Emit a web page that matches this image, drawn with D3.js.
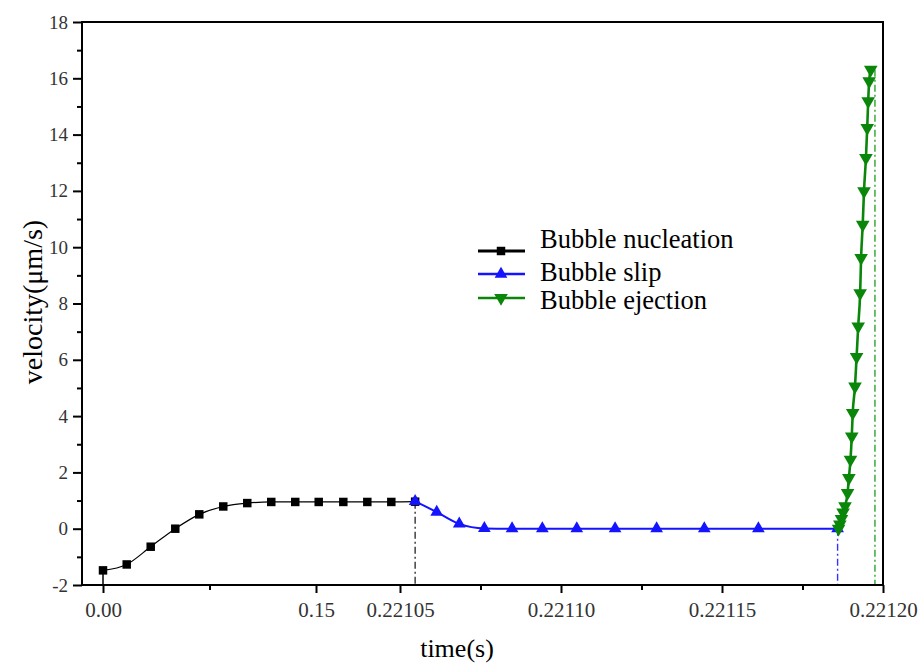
<!DOCTYPE html>
<html lang="en">
<head>
<meta charset="UTF-8">
<title>Bubble velocity</title>
<script src="https://cdnjs.cloudflare.com/ajax/libs/d3/7.8.5/d3.min.js"></script>
<style>
    body { margin: 0; background: #fff; }
    svg text { font-family: "Liberation Serif", "Times New Roman", serif; }
    .axis path, .axis line { stroke: #000; stroke-width: 2px; }
    .axis text { fill: #333; }
</style>
</head>
<body>
<svg id="chart" width="922" height="664"></svg>
<script>
// --- data ---
const nucleationTime = [0, 0.0167, 0.0336, 0.0509, 0.0678, 0.0847, 0.1016, 0.1185, 0.1354, 0.1523, 0.1731, 0.1934, 0.2137, 0.2210547];
const nucleationVel  = [-1.48, -1.27, -0.64, 0.0, 0.51, 0.79, 0.91, 0.95, 0.95, 0.95, 0.95, 0.95, 0.95, 0.96];

const slipTime = [0.2210547, 0.2210614, 0.2210684, 0.2210762, 0.2210848, 0.2210942, 0.2211049, 0.2211168, 0.2211297, 0.2211445, 0.2211613, 0.2211859];
const slipVel  = [0.97, 0.59, 0.17, 0.01, 0, 0, 0, 0, 0, 0, 0, 0];

const ejectionTime = [0.2211862, 0.2211866, 0.2211871, 0.2211876, 0.2211882, 0.2211890, 0.2211894, 0.2211899, 0.2211903, 0.2211906, 0.2211913,
                      0.2211918, 0.2211923, 0.2211929, 0.2211932, 0.2211937, 0.2211941, 0.2211947, 0.2211951, 0.2211954, 0.2211957, 0.2211962];
const ejectionVel  = [0.0, 0.15, 0.35, 0.58, 0.8, 1.27, 1.80, 2.45, 3.28, 4.11, 5.05, 6.10, 7.19, 8.37, 9.62, 10.80, 11.99, 13.17, 14.24, 15.19, 15.90, 16.31];

// broken time axis
const xBreaks     = [0, 0.15, 0.22105, 0.2212];
const xTicks      = [0, 0.15, 0.22105, 0.2211, 0.22115, 0.2212];
const xTickLabels = ["0.00", "0.15", "0.22105", "0.22110", "0.22115", "0.22120"];
const xMinor      = [0.075, 0.221075, 0.221125, 0.221175];
const yTicks      = [-2, 0, 2, 4, 6, 8, 10, 12, 14, 16, 18];
const yMinor      = [-1, 1, 3, 5, 7, 9, 11, 13, 15, 17];

// drop lines: time, from velocity, series
const dropTime = [0, 0.2210547, 0.2211859, 0.2211975];
const dropVel  = [-1.48, 0.96, 0, 16.3];
const dropSeries = ["nucleation-solid", "nucleation", "slip", "ejection"];

const seriesNames = ["Bubble nucleation", "Bubble slip", "Bubble ejection"];
const colors = { nucleation: "#000", slip: "#1414ff", ejection: "#0a870a" };

// --- layout ---
const svg = d3.select("#chart");
const frame = { left: 82, right: 883, top: 22, bottom: 585 };
const serif = '"Liberation Serif", "Times New Roman", serif';

const x = d3.scaleLinear().domain(xBreaks).range([103, 316, 400, 883]);
const y = d3.scaleLinear().domain([-2, 18]).range([frame.bottom, frame.top]);

// drop lines (behind data)
const dashColor = { "nucleation-solid": "#000", nucleation: "#333", slip: "#3333ff", ejection: "#2aa52a" };
svg.append("g").selectAll("line")
    .data(dropTime.map((t, i) => ({ t, v: dropVel[i], s: dropSeries[i] })))
    .join("line")
    .attr("x1", d => x(d.t)).attr("x2", d => x(d.t))
    .attr("y1", d => y(d.v)).attr("y2", frame.bottom)
    .attr("stroke", d => dashColor[d.s])
    .attr("stroke-width", d => d.s === "nucleation-solid" ? 1.5 : 1.4)
    .attr("stroke-dasharray", d => d.s === "nucleation-solid" ? null : "7,3,2,3");

// axes
const xAxis = svg.append("g").attr("class", "axis")
    .attr("transform", `translate(0,${frame.bottom})`)
    .call(d3.axisBottom(x).tickValues(xTicks).tickFormat((d, i) => xTickLabels[i]).tickSize(8).tickSizeOuter(0).tickPadding(9));
xAxis.select(".domain").remove();
xAxis.selectAll("text").style("font-family", serif).style("font-size", "21px");

const xAxisMinor = svg.append("g").attr("class", "axis")
    .attr("transform", `translate(0,${frame.bottom})`)
    .call(d3.axisBottom(x).tickValues(xMinor).tickFormat("").tickSize(5).tickSizeOuter(0));
xAxisMinor.select(".domain").remove();

const yAxis = svg.append("g").attr("class", "axis")
    .attr("transform", `translate(${frame.left},0)`)
    .call(d3.axisLeft(y).tickValues(yTicks).tickFormat(d => String(d)).tickSize(9).tickSizeOuter(0).tickPadding(5));
yAxis.select(".domain").remove();
yAxis.selectAll("text").style("font-family", serif).style("font-size", "19px");

const yAxisMinor = svg.append("g").attr("class", "axis")
    .attr("transform", `translate(${frame.left},0)`)
    .call(d3.axisLeft(y).tickValues(yMinor).tickFormat("").tickSize(5).tickSizeOuter(0));
yAxisMinor.select(".domain").remove();

// frame
svg.append("rect")
    .attr("x", frame.left).attr("y", frame.top)
    .attr("width", frame.right - frame.left).attr("height", frame.bottom - frame.top)
    .attr("fill", "none").attr("stroke", "#000").attr("stroke-width", 2);

// series
const series = [
    { key: "nucleation", t: nucleationTime, v: nucleationVel, symbol: d3.symbolSquare, size: 72, width: 1.2, rot: 0 },
    { key: "slip", t: slipTime, v: slipVel, symbol: d3.symbolTriangle, size: 70, width: 2, rot: 0 },
    { key: "ejection", t: ejectionTime, v: ejectionVel, symbol: d3.symbolTriangle, size: 80, width: 2.6, rot: 180 }
];

const line = d3.line().x(d => x(d[0])).y(d => y(d[1])).curve(d3.curveMonotoneX);

series.forEach(s => {
    const pts = s.t.map((t, i) => [t, s.v[i]]);
    const g = svg.append("g");
    g.append("path")
        .attr("d", line(pts))
        .attr("fill", "none")
        .attr("stroke", colors[s.key])
        .attr("stroke-width", s.width);
    g.selectAll("path.mark")
        .data(pts)
        .join("path")
        .attr("class", "mark")
        .attr("d", d3.symbol(s.symbol, s.size))
        .attr("transform", d => `translate(${x(d[0])},${y(d[1])}) rotate(${s.rot})`)
        .attr("fill", colors[s.key]);
});

// legend
const legendRows = [
    { lineY: 251, textY: 248 },
    { lineY: 274, textY: 281 },
    { lineY: 298, textY: 309 }
];
const legend = svg.append("g");
series.forEach((s, i) => {
    const r = legendRows[i];
    legend.append("line")
        .attr("x1", 478).attr("x2", 525)
        .attr("y1", r.lineY).attr("y2", r.lineY)
        .attr("stroke", colors[s.key])
        .attr("stroke-width", i === 0 ? 3 : 2.4);
    legend.append("path")
        .attr("d", d3.symbol(s.symbol, s.size))
        .attr("transform", `translate(501,${r.lineY}) rotate(${s.rot})`)
        .attr("fill", colors[s.key]);
    legend.append("text")
        .attr("x", 540).attr("y", r.textY)
        .style("font-size", "26.5px")
        .attr("fill", "#000")
        .text(seriesNames[i]);
});

// axis titles
svg.append("text")
    .attr("x", 457).attr("y", 657)
    .attr("text-anchor", "middle")
    .style("font-size", "26px")
    .text("time(s)");

svg.append("text")
    .attr("transform", "translate(42,302) rotate(-90)")
    .attr("text-anchor", "middle")
    .style("font-size", "28px")
    .text("velocity(μm/s)");
</script>
</body>
</html>
